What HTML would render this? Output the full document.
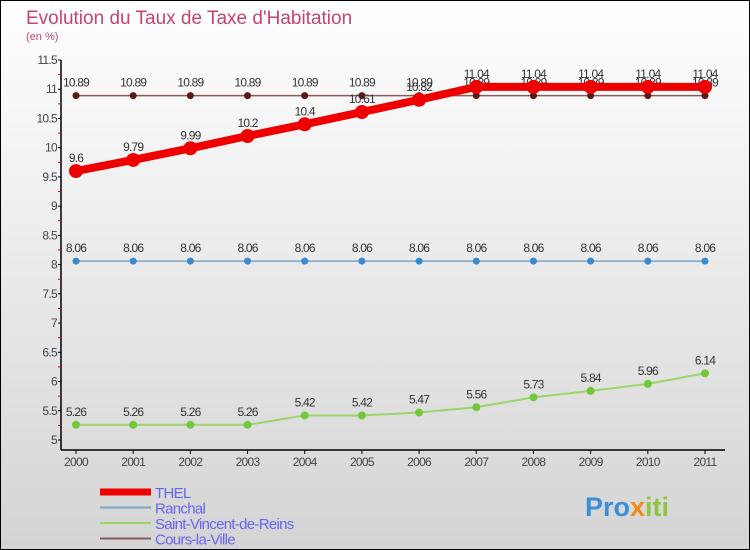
<!DOCTYPE html>
<html><head><meta charset="utf-8"><style>
body{margin:0}
#c{width:750px;height:550px;position:relative;box-sizing:border-box;border:1px solid #000;background:linear-gradient(#fff,#d4d4d4);font-family:"Liberation Sans",sans-serif;overflow:hidden}
text{font-family:"Liberation Sans",sans-serif}
</style></head><body>
<div id="c">
<svg id="s" width="750" height="550" style="position:absolute;left:-1px;top:-1px">
<text x="26" y="24" font-size="19" fill="#c8436e">Evolution du Taux de Taxe d'Habitation</text>
<text x="26" y="40" font-size="11" fill="#c8436e">(en %)</text>
<text x="585" y="516" font-size="27" font-weight="bold" fill="#3a8fd8">Pro<tspan fill="#f08a1c">x</tspan><tspan fill="#8cc63f">iti</tspan></text>
</svg>
</div>
<script>
const years=[2000,2001,2002,2003,2004,2005,2006,2007,2008,2009,2010,2011];
const yTicks=[5,5.5,6,6.5,7,7.5,8,8.5,9,9.5,10,10.5,11,11.5];
const thel=[9.6,9.79,9.99,10.2,10.4,10.61,10.82,11.04,11.04,11.04,11.04,11.04];
const ranchal=[8.06,8.06,8.06,8.06,8.06,8.06,8.06,8.06,8.06,8.06,8.06,8.06];
const svr=[5.26,5.26,5.26,5.26,5.42,5.42,5.47,5.56,5.73,5.84,5.96,6.14];
const cours=[10.89,10.89,10.89,10.89,10.89,10.89,10.89,10.89,10.89,10.89,10.89,10.89];
const seriesNames=["THEL","Ranchal","Saint-Vincent-de-Reins","Cours-la-Ville"];
const s=document.getElementById('s');
const NS='http://www.w3.org/2000/svg';
const X=i=>76+i*(705-76)/(years.length-1);
const Y=v=>440-(v-5)*(380/6.5);
function mk(t,a){const e=document.createElementNS(NS,t);for(const k in a)e.setAttribute(k,a[k]);s.appendChild(e);return e;}
let ax=mk('line',{x1:61,y1:Y(11.5),x2:61,y2:450,stroke:'#000','stroke-width':1.5});


let bx=mk('line',{x1:61,y1:450,x2:725,y2:450,stroke:'#000','stroke-width':1.5});


yTicks.forEach(v=>{
 mk('line',{x1:58,y1:Y(v),x2:61,y2:Y(v),stroke:'#000'});
 if(v<11.5) mk('line',{x1:58,y1:Y(v+0.25),x2:61,y2:Y(v+0.25),stroke:'#e00'});
 const t=mk('text',{x:57,y:Y(v)+4,'text-anchor':'end','font-size':12,fill:'#444','letter-spacing':'-0.7'});
 t.textContent=String(v);
 
 
});
years.forEach((y,i)=>{
 mk('line',{x1:X(i),y1:450,x2:X(i),y2:454,stroke:'#000'});
 const t=mk('text',{x:X(i),y:466,'text-anchor':'middle','font-size':12,fill:'#444','letter-spacing':'-0.7'});
 t.textContent=y;
 
 
});
function series(vals,color,w,r,dot,name){
 const p=mk('polyline',{points:vals.map((v,i)=>X(i)+','+Y(v)).join(' '),fill:'none',stroke:color,'stroke-width':w});
 
 
 vals.forEach((v,i)=>{
  const c=mk('circle',{cx:X(i),cy:Y(v),r:r,fill:dot});
  
  
  const t=mk('text',{x:X(i),y:Y(v)-9,'text-anchor':'middle','font-size':12,fill:'#333','letter-spacing':'-0.8'});
  t.textContent=String(v);
  
  
 });
}
series(cours,'#8a5a5a',1.5,3.5,'#5a1a1a','cours-la-ville');
series(ranchal,'#7aa6c8',1.5,3.5,'#3a8ad0','ranchal');
series(svr,'#9ad46a',2,4,'#72c83a','saint-vincent-de-reins');
series(thel,'#ee0000',8,7,'#ee0000','thel');
const lc=['#ee0000','#7aa6c8','#9ad46a','#8a5a5a'],lw=[7,2,2,2];
seriesNames.forEach((n,i)=>{
 const y=492+i*15.5;
 const l=mk('line',{x1:100,y1:y,x2:151,y2:y,stroke:lc[i],'stroke-width':lw[i]});
 
 
 const t=mk('text',{x:155,y:y+6,'font-size':15,fill:'#6666ee','letter-spacing':'-0.7'});
 t.textContent=n;
 
 
});
</script>
</body></html>
